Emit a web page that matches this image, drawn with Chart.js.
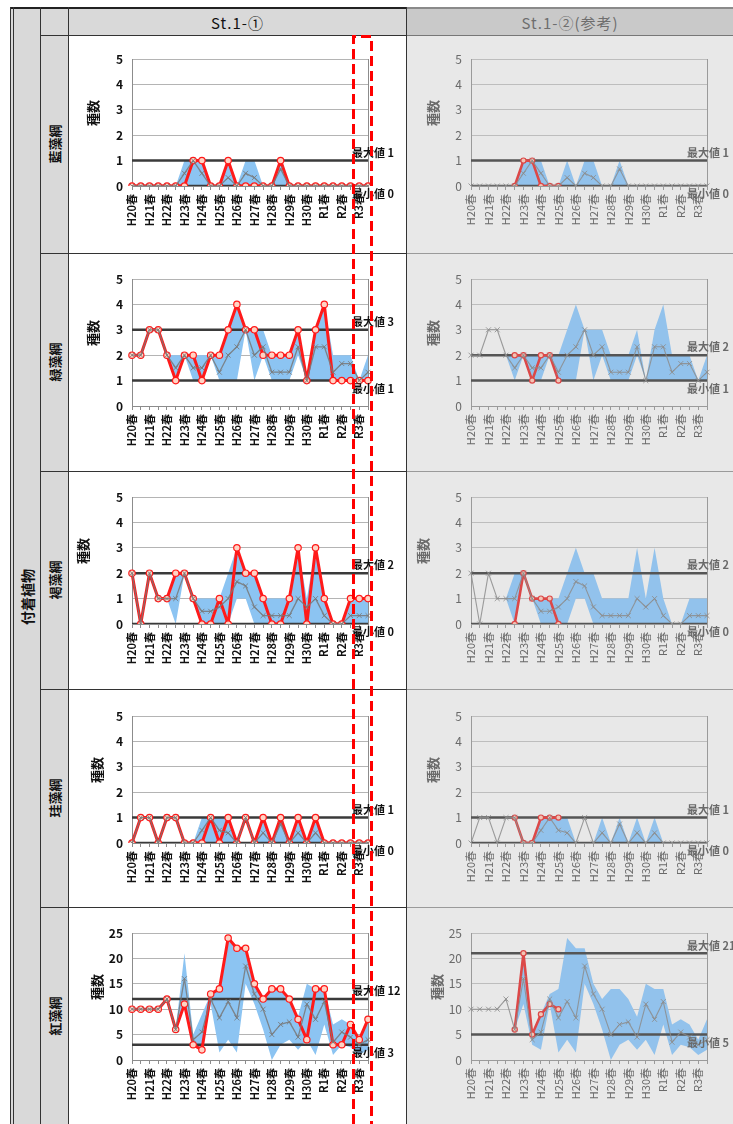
<!DOCTYPE html>
<html lang="ja">
<head>
<meta charset="utf-8">
<script src="https://cdn.jsdelivr.net/npm/chart.js@4.4.1/dist/chart.umd.min.js"></script>
<style>
  html, body { margin: 0; padding: 0; }
  body { width: 733px; height: 1124px; overflow: hidden; position: relative; background: #fff;
         font-family: "Noto Sans CJK JP", "Noto Sans", sans-serif; }
  .box { position: absolute; box-sizing: border-box; }
  .vt { position: absolute; transform: translate(-50%, -50%) rotate(-90deg); white-space: nowrap; font-weight: bold; }
  canvas { position: absolute; }
</style>
</head>
<body>

<script>
// Survey periods: spring and autumn of each year
const seasons = ['H20春','H20秋','H21春','H21秋','H22春','H22秋','H23春','H23秋','H24春','H24秋',
                 'H25春','H25秋','H26春','H26秋','H27春','H27秋','H28春','H28秋','H29春','H29秋',
                 'H30春','H30秋','R1春','R1秋','R2春','R2秋','R3春','R3秋'];

const classNames = ['藍藻綱', '緑藻綱', '褐藻綱', '珪藻綱', '紅藻綱'];
const stationNames = ['St.1-①', 'St.1-②(参考)'];

// y-axis ticks per class
const axisMax  = [5, 5, 5, 5, 25];
const axisStep = [1, 1, 1, 1, 5];

// reference maxima / minima
const st1Max = [1, 3, 2, 1, 12];
const st1Min = [0, 1, 0, 0, 3];
const st2Max = [1, 2, 2, 1, 21];
const st2Min = [0, 1, 0, 0, 5];

// 藍藻綱
const cyanoSt1  = [0,0,0,0,0,0,0,1,1,0,0,1,0,0,0,0,0,1,0,0,0,0,0,0,0,0,0,0];
const cyanoSt2  = [null,null,null,null,null,0,1,1,0,0,0,null,null,null,null,null,null,null,null,null,null,null,null,null,null,null,null,null];
const cyanoMean = [0,0,0,0,0,0,0.5,1,0.5,0,0,0.33,0,0.5,0.33,0,0,0.67,0,0,0,0,0,0,0,0,0,0];
const cyanoLow  = [0,0,0,0,0,0,0,0,0,0,0,0,0,0,0,0,0,0,0,0,0,0,0,0,0,0,0,0];
const cyanoHigh = [0,0,0,0,0,0,1,1,1,0,0,1,0,1,1,0,0,1,0,0,0,0,0,0,0,0,0,0];

// 緑藻綱
const greenSt1  = [2,2,3,3,2,1,2,2,1,2,2,3,4,3,3,2,2,2,2,3,1,3,4,1,1,1,1,1];
const greenSt2  = [null,null,null,null,null,2,2,1,2,2,1,null,null,null,null,null,null,null,null,null,null,null,null,null,null,null,null,null];
const greenMean = [2,2,3,3,2,1.5,2,1.5,1.5,2,1.33,2,2.33,3,2,2.33,1.33,1.33,1.33,2.33,1,2.33,2.33,1.33,1.67,1.67,1,1.33];
const greenLow  = [2,2,3,3,2,1,2,1,1,2,1,1,1,3,1,2,1,1,1,2,1,1,1,1,1,1,1,1];
const greenHigh = [2,2,3,3,2,2,2,2,2,2,2,3,4,3,3,3,2,2,2,3,1,3,4,2,2,2,1,2];

// 褐藻綱
const brownSt1  = [2,0,2,1,1,2,2,1,0,0,1,0,3,2,2,1,0,0,1,3,0,3,1,0,0,1,1,1];
const brownSt2  = [null,null,null,null,null,0,2,1,1,1,0,null,null,null,null,null,null,null,null,null,null,null,null,null,null,null,null,null];
const brownMean = [2,0,2,1,1,1,2,1,0.5,0.5,0.67,1,1.67,1.5,0.67,0.33,0.33,0.33,0.33,1,0.67,1,0.33,0,0,0.33,0.33,0.33];
const brownLow  = [2,0,2,1,1,0,2,1,0,0,0,0,1,1,0,0,0,0,0,0,0,0,0,0,0,0,0,0];
const brownHigh = [2,0,2,1,1,2,2,1,1,1,1,2,3,2,2,1,1,1,1,3,1,3,1,0,0,1,1,1];

// 珪藻綱
const diatomSt1  = [0,1,1,0,1,1,0,0,0,1,0,1,0,1,0,1,0,1,0,1,0,1,0,0,0,0,0,0];
const diatomSt2  = [null,null,null,null,null,1,0,0,1,1,1,null,null,null,null,null,null,null,null,null,null,null,null,null,null,null,null,null];
const diatomMean = [0,1,1,0,1,1,0,0,0.5,1,0.5,0.4,0,1,0,0.4,0,0.75,0,0.4,0,0.4,0,0,0,0,0,0];
const diatomLow  = [0,1,1,0,1,1,0,0,0,0,0,0,0,1,0,0,0,0,0,0,0,0,0,0,0,0,0,0];
const diatomHigh = [0,1,1,0,1,1,0,0,1,1,1,1,0,1,0,1,0,1,0,1,0,1,0,0,0,0,0,0];

// 紅藻綱
const rhodoSt1  = [10,10,10,10,12,6,11,3,2,13,14,24,22,22,15,12,14,14,12,8,4,14,14,3,3,7,4,8];
const rhodoSt2  = [null,null,null,null,null,6,21,5,9,11,10,null,null,null,null,null,null,null,null,null,null,null,null,null,null,null,null,null];
const rhodoMean = [10,10,10,10,12,6,16,4,5.5,12,8.3,11.5,8.3,18.5,13,10,5,7,7.5,4.5,11,8,11.5,3.5,5.5,4.5,3,4];
const rhodoLow  = [10,10,10,10,12,6,11,3,2,11,1.5,4,1.5,15,11,6,0,3,4,2,4,1,7,1,3,2.5,1,2];
const rhodoHigh = [10,10,10,10,12,6,21,5,9,13,14,24,22,22,15,12,14,14,12,8.5,15,14,14,7,8,7,4,8];

const panels = [
  { st1: cyanoSt1,  st2: cyanoSt2,  mean: cyanoMean,  low: cyanoLow,  high: cyanoHigh },
  { st1: greenSt1,  st2: greenSt2,  mean: greenMean,  low: greenLow,  high: greenHigh },
  { st1: brownSt1,  st2: brownSt2,  mean: brownMean,  low: brownLow,  high: brownHigh },
  { st1: diatomSt1, st2: diatomSt2, mean: diatomMean, low: diatomLow, high: diatomHigh },
  { st1: rhodoSt1,  st2: rhodoSt2,  mean: rhodoMean,  low: rhodoLow,  high: rhodoHigh }
];
</script>

<!-- table frame -->
<div class="box" style="left:10px;top:8px;width:58px;height:1116px;background:#d9d9d9;"></div>
<div class="box" style="left:68px;top:8px;width:339px;height:27px;background:#d9d9d9;"></div>
<div class="box" style="left:407px;top:8px;width:326px;height:27px;background:#c9c9c9;"></div>
<div class="box" style="left:407px;top:35px;width:326px;height:1089px;background:#e8e8e8;"></div>

<div class="box" style="left:68px;top:10px;width:339px;height:25px;line-height:25px;text-align:center;font-size:15px;letter-spacing:1px;color:#111;" id="h1"></div>
<div class="box" style="left:407px;top:10px;width:326px;height:25px;line-height:25px;text-align:center;font-size:15px;letter-spacing:1px;color:#6e6e6e;" id="h2"></div>

<div id="frame"></div>
<div class="vt" style="left:27px;top:597px;font-size:14px;color:#111;">付着植物</div>
<div id="names"></div>

<script>
const FONT = '"Noto Sans CJK JP", "Noto Sans", sans-serif';
const rowTops = [33, 253, 471, 690, 907];
const rowLines = [35, 253, 471, 689, 907];
document.getElementById('h1').textContent = stationNames[0];
document.getElementById('h2').textContent = stationNames[1];

// grid lines of the table
const frame = document.getElementById('frame');
function line(x, y, w, h, c) {
  const d = document.createElement('div');
  d.className = 'box';
  d.style.cssText = `left:${x}px;top:${y}px;width:${w}px;height:${h}px;background:${c};`;
  frame.appendChild(d);
}
line(10, 7, 397, 2, '#222'); line(407, 7, 326, 2, '#8a8a8a');
[10, 13, 40, 68].forEach(x => line(x, 7, 1, 1117, '#333'));
line(406, 7, 1, 1117, '#333');
rowLines.forEach((y, i) => {
  line(40, y, 367, 1, '#333');
  line(407, y, 326, 1, i === 0 ? '#777' : '#9a9a9a');
});

const names = document.getElementById('names');
classNames.forEach((n, i) => {
  const d = document.createElement('div');
  d.className = 'vt';
  d.style.cssText = `left:54px;top:${(rowLines[i] + (rowLines[i + 1] || 1124)) / 2}px;font-size:13px;color:#111;`;
  d.textContent = n;
  names.appendChild(d);
});

// plot border on the right side of the chart area
const framePlugin = {
  id: 'plotFrame',
  beforeDatasetsDraw(chart, args, o) {
    const { ctx, chartArea: a } = chart;
    ctx.save();
    ctx.strokeStyle = o.color; ctx.lineWidth = 1;
    ctx.beginPath();
    ctx.moveTo(Math.round(a.right) + 0.5, a.top);
    ctx.lineTo(Math.round(a.right) + 0.5, a.bottom);
    ctx.stroke();
    ctx.restore();
  }
};

// axis title and max / min annotations
const notesPlugin = {
  id: 'notes',
  afterDraw(chart, args, o) {
    const { ctx, chartArea: a, scales: { y } } = chart;
    ctx.save();
    ctx.fillStyle = o.color;
    ctx.font = o.font;
    ctx.textBaseline = 'middle';
    ctx.textAlign = 'left';
    ctx.fillText('最大値 ' + o.max, a.right + o.dx, y.getPixelForValue(o.max) - 8);
    ctx.fillText('最小値 ' + o.min, a.right + o.dx, y.getPixelForValue(o.min) + 8);
    ctx.translate(o.titleX, o.titleY);
    ctx.rotate(-Math.PI / 2);
    ctx.textAlign = 'center';
    ctx.font = o.titleFont;
    ctx.fillStyle = o.titleColor;
    ctx.fillText('種数', 0, 0);
    ctx.restore();
  }
};

const themes = [
  { red: '#ff1a1a', redW: 3, redPt: '#ffd3c4', redR: 3.2, gray: 'rgba(120,120,120,0.85)', grayW: 1.3,
    blue: 'rgb(140,196,242)', limit: '#3a3a3a', grid: '#b4b4b4', axis: '#8c8c8c', tick: '#111',
    tickWeight: 'bold', note: '#111', noteFont: 'bold 11px ' + FONT, noteDx: -16, titleColor: '#111' },
  { red: '#dc4848', redW: 2.6, redPt: '#f2c3b4', redR: 2.6, gray: 'rgba(140,140,140,0.85)', grayW: 1.1,
    blue: 'rgb(146,194,236)', limit: '#555', grid: '#bdbdbd', axis: '#9a9a9a', tick: '#6a6a6a',
    tickWeight: 'normal', note: '#6a6a6a', noteFont: 'bold 11px ' + FONT, noteDx: -20, titleColor: '#6a6a6a' }
];
const titleXs = [[25, 25, 15, 29, 29], [26, 26, 16, 26, 30]];
const colLefts = [68, 407];

function drawPanel(p, i, col) {
  const t = themes[col];
  const cv = document.createElement('canvas');
  cv.width = 339; cv.height = 218;
  cv.style.left = colLefts[col] + 'px';
  cv.style.top = rowTops[i] + 'px';
  document.body.appendChild(cv);
  const st = col === 0 ? p.st1 : p.st2;
  const mx = col === 0 ? st1Max[i] : st2Max[i];
  const mn = col === 0 ? st1Min[i] : st2Min[i];
  new Chart(cv, {
    type: 'line',
    data: {
      labels: seasons,
      datasets: [
        { label: '平均', data: p.mean, order: 0, borderColor: t.gray, borderWidth: t.grayW,
          borderJoinStyle: 'round',
          pointStyle: 'crossRot', pointRadius: 3.5, pointBorderColor: t.gray, pointBorderWidth: 1, fill: false },
        { label: stationNames[col], data: st, order: 1, borderColor: t.red, borderWidth: t.redW,
          borderJoinStyle: 'round', borderCapStyle: 'round',
          pointRadius: t.redR, pointBackgroundColor: t.redPt, pointBorderColor: t.red, pointBorderWidth: 1.2,
          fill: false, spanGaps: false },
        { label: '最大値', data: seasons.map(() => mx), order: 2, borderColor: t.limit, borderWidth: 2.5,
          pointRadius: 0, fill: false },
        { label: '最小値', data: seasons.map(() => mn), order: 2, borderColor: t.limit, borderWidth: 2.5,
          pointRadius: 0, fill: false },
        { label: '下限', data: p.low, order: 4, borderWidth: 0, pointRadius: 0, fill: false },
        { label: '上限', data: p.high, order: 3, borderWidth: 0, pointRadius: 0, fill: '-1',
          backgroundColor: t.blue }
      ]
    },
    options: {
      responsive: false, animation: false, devicePixelRatio: 1,
      layout: { padding: { left: 24, right: 39, top: 26, bottom: 15 } },
      elements: { line: { tension: 0 } },
      plugins: {
        legend: { display: false }, tooltip: { enabled: false },
        plotFrame: { color: t.axis },
        notes: { max: mx, min: mn, dx: t.noteDx, color: t.note, font: t.noteFont,
                 titleX: titleXs[col][i], titleY: 80, titleFont: 'bold 13px ' + FONT, titleColor: t.titleColor }
      },
      scales: {
        x: {
          ticks: { autoSkip: false, minRotation: 90, maxRotation: 90, padding: 4, color: t.tick,
                   font: { family: FONT, size: 11, weight: t.tickWeight },
                   callback: (v, k) => (k % 2 === 0 ? seasons[k] : '') },
          grid: { drawOnChartArea: false, drawTicks: true, tickLength: 4, color: t.axis },
          border: { color: t.axis },
          afterFit: s => { s.height = 50; }
        },
        y: {
          min: 0, max: axisMax[i],
          ticks: { stepSize: axisStep[i], padding: 9, color: t.tick,
                   font: { family: FONT, size: 12, weight: t.tickWeight } },
          grid: { color: t.grid, drawTicks: false },
          border: { color: t.axis },
          afterFit: s => { s.width = 40; }
        }
      }
    },
    plugins: [framePlugin, notesPlugin]
  });
}

panels.forEach((p, i) => { drawPanel(p, i, 0); drawPanel(p, i, 1); });
</script>

<!-- highlighted latest survey column -->
<svg width="733" height="1124" style="position:absolute;left:0;top:0;pointer-events:none;">
  <path d="M353.5 1124 V36.5 H371.5 V1124" fill="none" stroke="#ff0000" stroke-width="3" stroke-dasharray="10 5"/>
</svg>
</body>
</html>
